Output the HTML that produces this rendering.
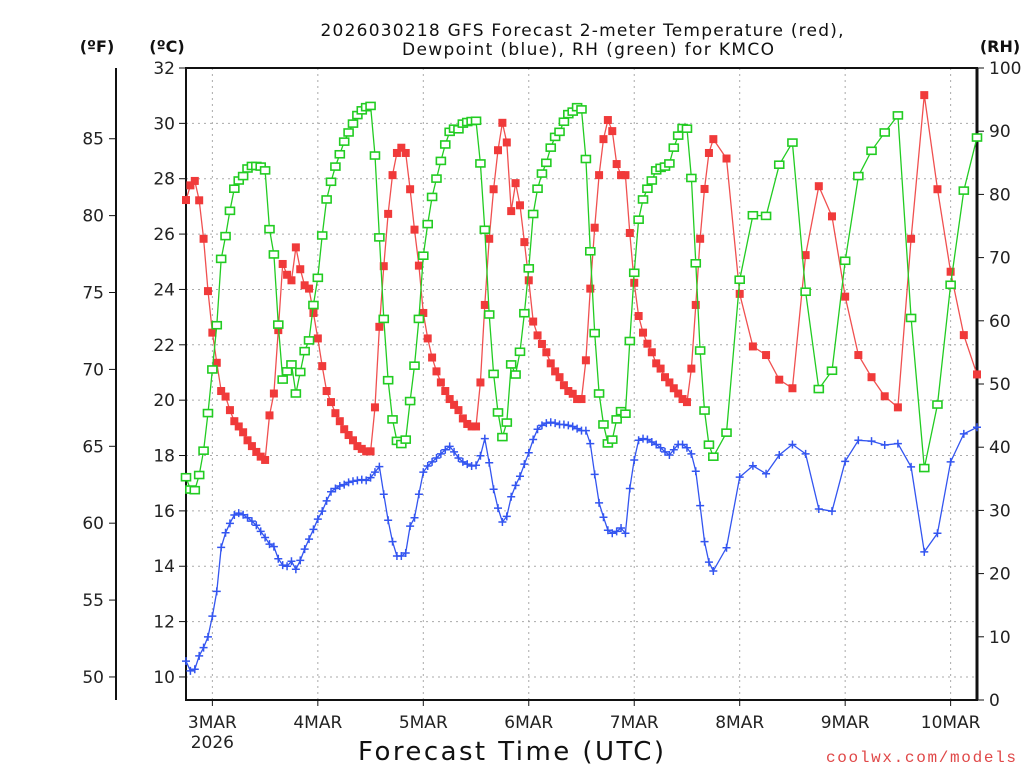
<!DOCTYPE html>
<html><head><meta charset="utf-8"><style>
html,body{margin:0;padding:0;background:#fff;}
svg{display:block;font-family:"DejaVu Sans","Liberation Sans",sans-serif;}
</style></head><body>
<svg id="chart" width="1024" height="768" viewBox="0 0 1024 768" xmlns="http://www.w3.org/2000/svg">
<rect width="1024" height="768" fill="#fff"/>
<g id="grid"></g>
<g id="axes"></g>
<g id="series"></g>
<text x="582" y="36" text-anchor="middle" font-size="17" fill="#111" textLength="523">2026030218 GFS Forecast 2-meter Temperature (red),</text>
<text x="588" y="55" text-anchor="middle" font-size="17" fill="#111" textLength="372">Dewpoint (blue), RH (green) for KMCO</text>
<text x="97" y="52" text-anchor="middle" font-size="16" font-weight="bold" fill="#111">(ºF)</text>
<text x="167" y="52" text-anchor="middle" font-size="16" font-weight="bold" fill="#111">(ºC)</text>
<text x="1000" y="52" text-anchor="middle" font-size="16" font-weight="bold" fill="#111">(RH)</text>
<text x="511" y="760" text-anchor="middle" font-size="26" fill="#111" textLength="306">Forecast Time (UTC)</text>
<text x="1016" y="762" text-anchor="end" font-family="Liberation Mono, monospace" font-size="16" fill="#e04848" textLength="190">coolwx.com/models</text>
</svg>
<script>
const hours = [...Array(121).keys()].concat([123,126,129,132,135,138,141,144,147,150,153,156,159,162,165,168,171,174,177,180]);
const tempC = [27.23,27.76,27.92,27.22,25.83,23.94,22.44,21.35,20.33,20.13,
19.64,19.24,19.05,18.84,18.55,18.34,18.13,17.96,17.84,19.45,
20.24,22.53,24.92,24.53,24.33,25.52,24.73,24.15,24.03,23.15,
22.23,21.23,20.33,19.93,19.53,19.24,18.95,18.74,18.55,18.34,
18.24,18.15,18.15,19.74,22.65,24.84,26.73,28.13,28.93,29.12,
28.93,27.62,26.16,24.86,23.15,22.23,21.54,21.04,20.64,20.33,
20.04,19.83,19.64,19.34,19.14,19.05,19.05,20.64,23.44,25.83,
27.62,29.03,30.02,29.31,26.83,27.84,27.04,25.71,24.33,22.84,
22.34,22.03,21.73,21.33,21.04,20.83,20.54,20.33,20.23,20.04,
20.04,21.44,24.03,26.23,28.13,29.43,30.12,29.72,28.53,28.13,
28.13,26.04,24.24,23.04,22.44,22.04,21.73,21.33,21.14,20.83,
20.64,20.43,20.24,20.04,19.93,21.14,23.44,25.83,27.63,28.93,
29.43,
28.73,23.84,21.94,21.63,20.74,20.43,25.24,27.73,26.64,23.74,21.63,20.83,20.14,19.74,25.83,31.02,27.62,24.64,22.35,20.93];
const dewC = [10.57,10.22,10.28,10.76,11.06,11.45,12.2,13.09,14.68,15.21,
15.55,15.85,15.92,15.86,15.75,15.63,15.48,15.26,15.04,14.8,
14.71,14.27,14.04,14.0,14.18,13.89,14.21,14.62,14.98,15.33,
15.7,15.99,16.36,16.69,16.81,16.9,16.95,17.03,17.07,17.1,
17.13,17.1,17.2,17.4,17.6,16.6,15.66,14.89,14.37,14.37,
14.48,15.45,15.75,16.6,17.4,17.62,17.77,17.91,18.06,18.21,
18.33,18.13,17.91,17.77,17.69,17.62,17.65,17.99,18.61,17.74,
16.78,16.1,15.6,15.8,16.51,16.92,17.25,17.69,18.1,18.58,
18.95,19.09,19.17,19.2,19.17,19.12,19.12,19.09,19.05,18.97,
18.9,18.9,18.43,17.32,16.29,15.77,15.3,15.19,15.26,15.38,
15.19,16.81,17.84,18.55,18.61,18.58,18.49,18.4,18.28,18.13,
18.02,18.21,18.4,18.4,18.28,18.06,17.43,16.19,14.89,14.15,
13.83,
14.67,17.22,17.63,17.34,18.02,18.4,18.06,16.07,15.99,17.79,18.55,18.52,18.38,18.43,17.59,14.52,15.19,17.77,18.78,19.02];
const rhPct = [35.25,33.3,33.2,35.6,39.45,45.4,52.3,59.3,69.8,73.4,
77.4,80.9,82.2,82.9,84.1,84.5,84.5,84.4,83.8,74.5,
70.5,59.4,50.7,52.0,53.1,48.5,51.9,55.2,56.9,62.5,
66.8,73.5,79.2,82.0,84.4,86.35,88.35,89.8,91.2,92.55,
93.3,93.8,94.0,86.15,73.2,60.3,50.6,44.4,41.0,40.5,
41.2,47.3,52.9,60.3,70.3,75.3,79.6,82.5,85.3,87.9,
89.9,90.4,90.3,91.2,91.45,91.6,91.65,84.9,74.4,61.0,
51.6,45.5,41.6,43.9,53.1,51.5,55.1,61.2,68.3,76.9,
80.9,83.3,85.0,87.4,89.1,89.9,91.5,92.7,93.1,93.8,
93.45,85.6,71.0,58.05,48.5,43.6,40.6,41.2,44.4,45.7,
45.3,56.8,67.6,76.0,79.2,80.9,82.2,83.8,84.2,84.4,
84.9,87.4,89.3,90.5,90.4,82.6,69.1,55.3,45.8,40.4,
38.5,
42.3,66.5,76.7,76.6,84.7,88.2,64.6,49.2,52.1,69.5,82.9,86.9,89.8,92.5,60.45,36.7,46.75,65.7,80.6,89.0];
const cTicks = [10,12,14,16,18,20,22,24,26,28,30,32];
const fTicks = [50,55,60,65,70,75,80,85];
const rhTicks = [0,10,20,30,40,50,60,70,80,90,100];
const dayHours = [6,30,54,78,102,126,150,174];
const dayLabels = ["3MAR","4MAR","5MAR","6MAR","7MAR","8MAR","9MAR","10MAR"];

const NS = "http://www.w3.org/2000/svg";
const L = 186, R = 977, T = 68, B = 700;
function xs(h){ return L + h * (R - L) / 180; }
function yC(c){ return T + (32 - c) * 27.68; }
function yF(f){ return yC((f - 32) * 5 / 9); }
function yRH(r){ return B - r * (B - T) / 100; }
function mk(tag, attrs, parent){ const e = document.createElementNS(NS, tag); for (const k in attrs) e.setAttribute(k, attrs[k]); parent.appendChild(e); return e; }

const grid = document.getElementById('grid');
const axes = document.getElementById('axes');
const series = document.getElementById('series');

cTicks.forEach(c => {
  const g = mk('line', {x1:L, x2:R, y1:yC(c), y2:yC(c), stroke:'#aaa', 'stroke-width':1, 'stroke-dasharray':'2,4'}, grid);
  
  
  const t = mk('line', {x1:L-7, x2:L, y1:yC(c), y2:yC(c), stroke:'#111', 'stroke-width':1}, axes);
  
  
  const tx = mk('text', {x:L-11, y:yC(c)+6, 'text-anchor':'end', 'font-size':17, fill:'#222'}, axes);
  tx.textContent = c;
  
  
});
dayHours.forEach((h, i) => {
  const g = mk('line', {x1:xs(h), x2:xs(h), y1:T, y2:B, stroke:'#aaa', 'stroke-width':1, 'stroke-dasharray':'2,4'}, grid);
  
  
  const t = mk('line', {x1:xs(h), x2:xs(h), y1:B, y2:B+6, stroke:'#111', 'stroke-width':1}, axes);
  
  
  const tx = mk('text', {x:xs(h), y:B+28, 'text-anchor':'middle', 'font-size':17, fill:'#222'}, axes);
  tx.textContent = dayLabels[i];
  
  
});
const yr = mk('text', {x:xs(dayHours[0]), y:B+48, 'text-anchor':'middle', 'font-size':17, fill:'#222'}, axes);
yr.textContent = '2026';



const fAxis = mk('line', {x1:116, x2:116, y1:T, y2:B, stroke:'#111', 'stroke-width':2}, axes);


fTicks.forEach(f => {
  const t = mk('line', {x1:109, x2:116, y1:yF(f), y2:yF(f), stroke:'#111', 'stroke-width':1}, axes);
  
  
  const tx = mk('text', {x:104, y:yF(f)+6, 'text-anchor':'end', 'font-size':17, fill:'#222'}, axes);
  tx.textContent = f;
  
  
});
rhTicks.forEach(r => {
  const t = mk('line', {x1:R, x2:R+7, y1:yRH(r), y2:yRH(r), stroke:'#111', 'stroke-width':1}, axes);
  
  
  const tx = mk('text', {x:R+12, y:yRH(r)+6, 'text-anchor':'start', 'font-size':17, fill:'#222'}, axes);
  tx.textContent = r;
  
  
});
const frame = mk('path', {d:`M${L},${T}H${R}V${B}H${L}Z`, fill:'none', stroke:'#111', 'stroke-width':2}, axes);


const rAxis = mk('line', {x1:R, x2:R, y1:T, y2:B, stroke:'#111', 'stroke-width':3}, axes);



function linePath(vals, yf){ return hours.map((h,i)=>(i?'L':'M')+xs(h).toFixed(1)+','+yf(vals[i]).toFixed(1)).join(''); }

// Temperature (red)
const tl = mk('path', {d:linePath(tempC, yC), fill:'none', stroke:'#f05050', 'stroke-width':1.3}, series);


hours.forEach((h,i) => {
  const m = mk('rect', {x:xs(h)-4, y:yC(tempC[i])-4, width:8, height:8, fill:'#f03a3a'}, series);
  
  
});
// Dewpoint (blue)
const dl = mk('path', {d:linePath(dewC, yC), fill:'none', stroke:'#3355f0', 'stroke-width':1.3}, series);


hours.forEach((h,i) => {
  const x = xs(h), y = yC(dewC[i]);
  const m = mk('path', {d:`M${x-4},${y}H${x+4}M${x},${y-4}V${y+4}`, stroke:'#3355f0', 'stroke-width':1.5, fill:'none'}, series);
  
  
});
// RH (green)
const rl = mk('path', {d:linePath(rhPct, yRH), fill:'none', stroke:'#22cc22', 'stroke-width':1.3}, series);


hours.forEach((h,i) => {
  const m = mk('rect', {x:xs(h)-4.5, y:yRH(rhPct[i])-3.5, width:9, height:7, fill:'#fff', stroke:'#22cc22', 'stroke-width':1.6}, series);
  
  
});
</script>
</body></html>
